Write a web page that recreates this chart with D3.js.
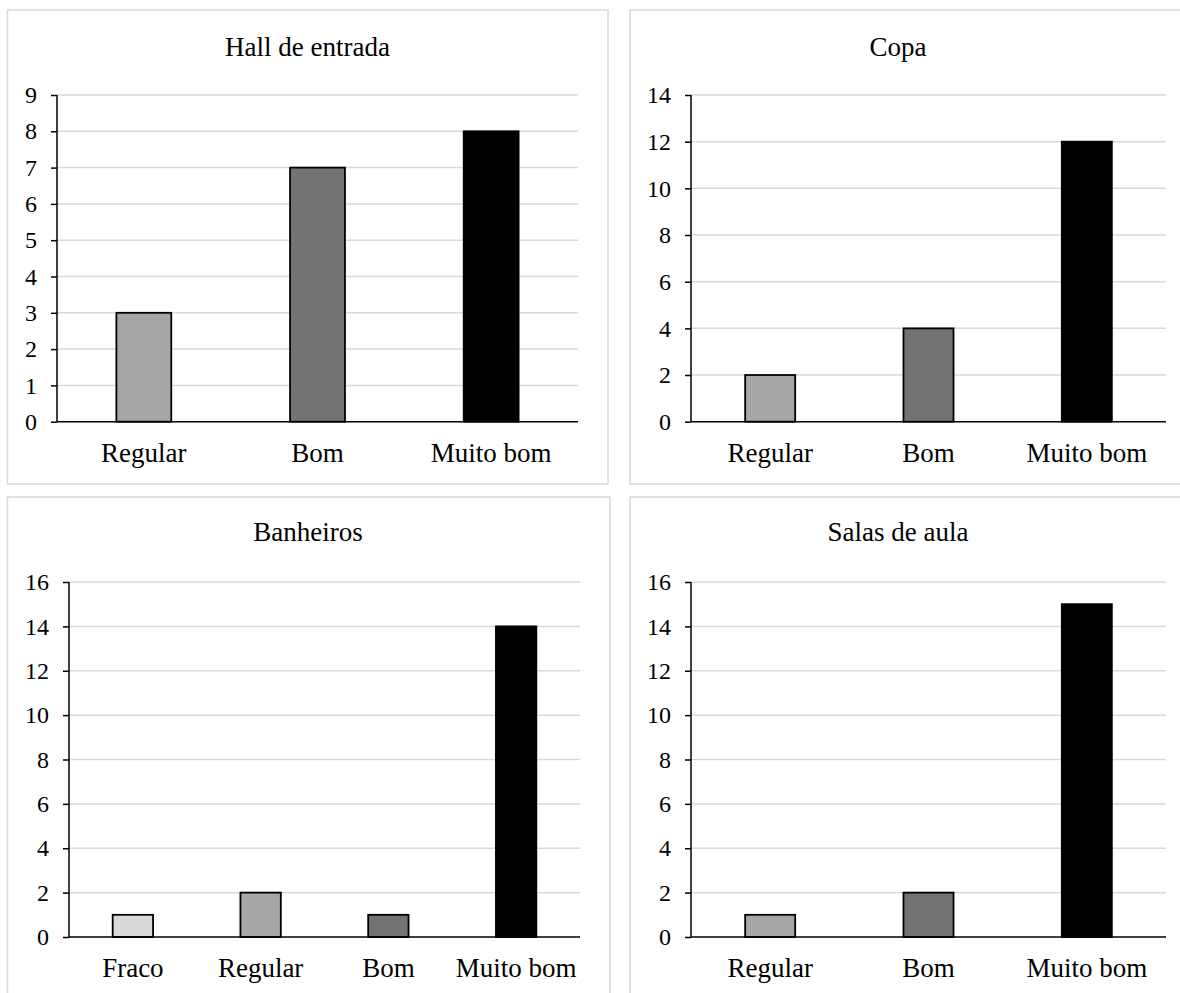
<!DOCTYPE html>
<html>
<head>
<meta charset="utf-8">
<script src="https://cdn.jsdelivr.net/npm/d3@7"></script>
<style>
  html, body { margin: 0; padding: 0; background: #fff; }
  svg { display: block; }
  text { font-family: "Liberation Serif", "Times New Roman", serif; fill: #000; }
</style>
</head>
<body>
<svg id="chart" width="1180" height="993"></svg>
<script>
// ---- data ----
const hallTitle = "Hall de entrada";
const hallCategories = ["Regular", "Bom", "Muito bom"];
const hallValues = [3, 7, 8];
const hallTicks = [0, 1, 2, 3, 4, 5, 6, 7, 8, 9];

const copaTitle = "Copa";
const copaCategories = ["Regular", "Bom", "Muito bom"];
const copaValues = [2, 4, 12];
const copaTicks = [0, 2, 4, 6, 8, 10, 12, 14];

const banheirosTitle = "Banheiros";
const banheirosCategories = ["Fraco", "Regular", "Bom", "Muito bom"];
const banheirosValues = [1, 2, 1, 14];
const banheirosTicks = [0, 2, 4, 6, 8, 10, 12, 14, 16];

const salasTitle = "Salas de aula";
const salasCategories = ["Regular", "Bom", "Muito bom"];
const salasValues = [1, 2, 15];
const salasTicks = [0, 2, 4, 6, 8, 10, 12, 14, 16];

const categoryColors = { "Fraco": "#d9d9d9", "Regular": "#a6a6a6", "Bom": "#737373", "Muito bom": "#000000" };

// ---- layout ----
const panels = [
  { title: hallTitle, cats: hallCategories, vals: hallValues, ticks: hallTicks,
    box: [7.5, 10, 600.5, 474], x0: 57, x1: 578, yTop: 95, yBot: 421.7, tx: 307.5, ty: 56 },
  { title: copaTitle, cats: copaCategories, vals: copaValues, ticks: copaTicks,
    box: [630, 10, 566, 474], x0: 691, x1: 1166, yTop: 95, yBot: 421.7, tx: 898, ty: 56 },
  { title: banheirosTitle, cats: banheirosCategories, vals: banheirosValues, ticks: banheirosTicks,
    box: [7.5, 497, 602.5, 520], x0: 69, x1: 580, yTop: 582, yBot: 937, tx: 308, ty: 541 },
  { title: salasTitle, cats: salasCategories, vals: salasValues, ticks: salasTicks,
    box: [630, 497, 566, 520], x0: 691, x1: 1166, yTop: 582, yBot: 937, tx: 898, ty: 541 }
];

const svg = d3.select("#chart");
svg.append("rect").attr("width", 1180).attr("height", 993).attr("fill", "#fff");

panels.forEach(p => {
  const g = svg.append("g");
  g.append("rect")
    .attr("x", p.box[0]).attr("y", p.box[1]).attr("width", p.box[2]).attr("height", p.box[3])
    .attr("fill", "#fff").attr("stroke", "#d9d9d9").attr("stroke-width", 1.5);

  const yMax = p.ticks[p.ticks.length - 1];
  const y = d3.scaleLinear().domain([0, yMax]).range([p.yBot, p.yTop]);
  const x = d3.scaleBand().domain(p.cats).range([p.x0, p.x1])
    .paddingInner(0.684).paddingOuter(0.342);

  // gridlines
  g.append("g").selectAll("line").data(p.ticks.filter(t => t > 0)).join("line")
    .attr("x1", p.x0).attr("x2", p.x1)
    .attr("y1", d => y(d)).attr("y2", d => y(d))
    .attr("stroke", "#d9d9d9").attr("stroke-width", 1.5);

  // bars
  g.append("g").selectAll("rect").data(p.cats.map((c, i) => ({ c, v: p.vals[i] }))).join("rect")
    .attr("x", d => x(d.c)).attr("width", x.bandwidth())
    .attr("y", d => y(d.v)).attr("height", d => y(0) - y(d.v))
    .attr("fill", d => categoryColors[d.c])
    .attr("stroke", "#000").attr("stroke-width", 1.8);

  // y axis
  const ya = g.append("g").attr("transform", `translate(${p.x0},0)`)
    .call(d3.axisLeft(y).tickValues(p.ticks).tickSize(6).tickPadding(14).tickFormat(d3.format("d")));
  ya.select(".domain").attr("stroke", "#000").attr("stroke-width", 1.5).attr("d", `M0,${p.yTop}V${p.yBot}`);
  ya.selectAll(".tick line").attr("stroke", "#000").attr("stroke-width", 1.5);
  ya.selectAll(".tick text").attr("font-family", "Liberation Serif").attr("font-size", 24).attr("fill", "#000");

  // x axis
  const xa = g.append("g").attr("transform", `translate(0,${p.yBot})`)
    .call(d3.axisBottom(x).tickSize(0).tickPadding(0));
  xa.select(".domain").attr("stroke", "#000").attr("stroke-width", 1.5).attr("d", `M${p.x0},0H${p.x1}`);
  xa.selectAll(".tick text").attr("font-family", "Liberation Serif").attr("font-size", 27)
    .attr("fill", "#000").attr("y", 40).attr("dy", null);

  // title
  g.append("text").attr("x", p.tx).attr("y", p.ty).attr("text-anchor", "middle")
    .attr("font-size", 27).text(p.title);
});
</script>
</body>
</html>
